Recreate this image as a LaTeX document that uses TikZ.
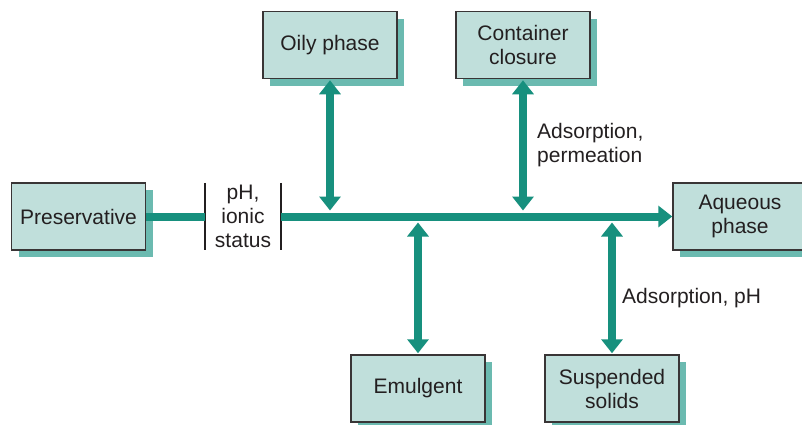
\documentclass[tikz,border=0pt]{standalone}
\usepackage{fontspec}
\setmainfont{Liberation Sans}
\usepackage{tikz}
\usetikzlibrary{calc,arrows.meta,shadows}

\definecolor{boxfill}{HTML}{C0DFDB}
\definecolor{boxshade}{HTML}{6BBAB0}
\definecolor{flowteal}{HTML}{17907E}
\definecolor{inkgray}{HTML}{231F20}

\begin{document}
\begin{tikzpicture}[x=1pt, y=-1pt,
    every node/.style={text=inkgray, font=\fontsize{21}{24}\selectfont},
    phasebox/.style={draw=inkgray!90, line width=1.5pt, fill=boxfill,
      minimum width=134pt, minimum height=67pt, inner sep=0pt, align=center,
      drop shadow={shadow xshift=7pt, shadow yshift=-7pt, fill=boxshade, opacity=1}},
    flow/.style={draw=flowteal, line width=8pt},
    flowtip/.style={-{Triangle[width=21pt, length=14pt]}}]
  \useasboundingbox (0,0) rectangle (802,424);

  % boxes
  \node[phasebox] (pres) at (78.5,216.5) {Preservative};
  \node[phasebox] (oily) at (330,45) {Oily phase};
  \node[phasebox] (cont) at (523,45) {Container\\closure};
  \node[phasebox] (aq) at (740,216.5) {Aqueous\\phase};
  \node[phasebox] (emul) at (418,388.5) {Emulgent};
  \node[phasebox] (susp) at (612,388.5) {Suspended\\solids};

  % pH stage between the bars
  \node[minimum width=76pt, minimum height=67pt, inner sep=0pt, align=center]
    (ph) at (243,216.5) {pH,\\ionic\\status};
  \draw[inkgray, line width=1.5pt] (ph.north west) -- (ph.south west);
  \draw[inkgray, line width=1.5pt] (ph.north east) -- (ph.south east);

  % main flow
  \draw[flow] (pres.east) -- (ph.west);
  \draw[flow, flowtip] (ph.east) -- (aq.west);

  % junctions on the main line
  \coordinate (jo) at (oily.south |- ph.east);
  \coordinate (jc) at (cont.south |- ph.east);
  \coordinate (je) at (emul.north |- ph.east);
  \coordinate (js) at (susp.north |- ph.east);

  % exchanges with the main line
  \draw[flow, {Triangle[width=21pt, length=14pt]}-{Triangle[width=21pt, length=14pt]},
    shorten <=1pt, shorten >=6pt] (oily.south) -- (jo);
  \draw[flow, {Triangle[width=21pt, length=14pt]}-{Triangle[width=21pt, length=14pt]},
    shorten <=1pt, shorten >=6pt] (cont.south) -- (jc);
  \draw[flow, {Triangle[width=21pt, length=14pt]}-{Triangle[width=21pt, length=14pt]},
    shorten <=1pt, shorten >=6pt] (emul.north) -- (je);
  \draw[flow, {Triangle[width=21pt, length=14pt]}-{Triangle[width=21pt, length=14pt]},
    shorten <=1pt, shorten >=6pt] (susp.north) -- (js);

  % labels
  \node[anchor=west, align=left, inner sep=0pt] (adsperm) at (537,145)
    {Adsorption,\\permeation};
  \node[anchor=west, inner sep=0pt] (adsph) at (622,298) {Adsorption, pH};
\end{tikzpicture}
\end{document}
